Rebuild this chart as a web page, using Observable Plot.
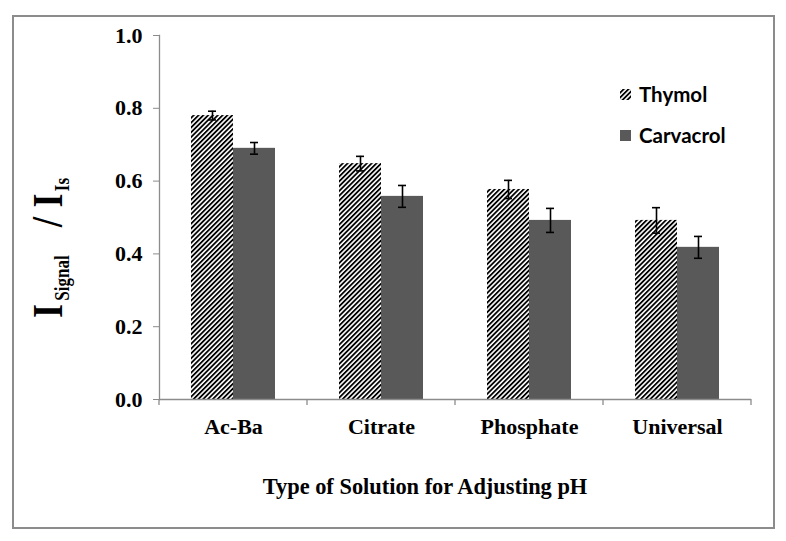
<!DOCTYPE html>
<html>
<head>
<meta charset="utf-8">
<script src="https://cdn.jsdelivr.net/npm/d3@7"></script>
<script src="https://cdn.jsdelivr.net/npm/@observablehq/plot@0.6"></script>
<style>
  html, body { margin: 0; padding: 0; background: #fff; }
  #wrap { position: relative; width: 786px; height: 541px; overflow: hidden; }
  #border { position: absolute; left: 12px; top: 15px; width: 759px; height: 510px; border: 2px solid #8c8c8c; pointer-events: none; }
  #overlay { position: absolute; left: 0; top: 0; pointer-events: none; }
</style>
</head>
<body>
<div id="wrap">
  <div id="chart"></div>
  <div id="border"></div>
  <svg id="overlay" width="786" height="541">
    <defs>
      <pattern id="hatch" patternUnits="userSpaceOnUse" width="3.4" height="3.4" patternTransform="rotate(45)">
        <rect x="0" y="0" width="3.4" height="3.4" fill="#fff"></rect>
        <rect x="0" y="0" width="1.8" height="3.4" fill="#000"></rect>
      </pattern>
    </defs>
    <g id="legend" font-family="Lato" font-weight="bold" font-size="20.5"></g>
    <text id="xtitle" x="425" y="494" text-anchor="middle" font-family="Liberation Serif" font-weight="bold" font-size="22.4" fill="#000"></text>
    <text id="ylabel" transform="translate(62,318) rotate(-90) scale(0.85,1)" font-family="Liberation Serif" font-weight="bold" fill="#000"></text>
  </svg>
</div>
<script>
const categories = ["Ac-Ba", "Citrate", "Phosphate", "Universal"];
const seriesNames = ["Thymol", "Carvacrol"];
const thymol = [0.780, 0.648, 0.577, 0.492];
const carvacrol = [0.690, 0.558, 0.492, 0.418];
const thymolErr = [0.012, 0.020, 0.025, 0.035];
const carvacrolErr = [0.016, 0.030, 0.033, 0.030];
const yTicks = [0, 0.2, 0.4, 0.6, 0.8, 1.0];
const xTitle = "Type of Solution for Adjusting pH";

const thymolRows = categories.map((c, i) => ({category: c, value: thymol[i], err: thymolErr[i]}));
const carvacrolRows = categories.map((c, i) => ({category: c, value: carvacrol[i], err: carvacrolErr[i]}));

const serif = "'Liberation Serif', 'Times New Roman', serif";

// boundary ticks along the category axis
function boundaryTicks(index, scales, values, dimensions) {
  const {width, marginLeft, marginRight, height, marginBottom} = dimensions;
  const n = categories.length;
  const step = (width - marginLeft - marginRight) / n;
  const y0 = height - marginBottom;
  const g = d3.create("svg:g").attr("stroke", "#8c8c8c").attr("stroke-width", 1.3);
  for (let i = 0; i <= n; i++) {
    const x = marginLeft + i * step;
    g.append("line").attr("x1", x).attr("x2", x).attr("y1", y0).attr("y2", y0 + 6);
  }
  return g.node();
}

const chart = Plot.plot({
  width: 786,
  height: 541,
  marginLeft: 159,
  marginRight: 35,
  marginTop: 35,
  marginBottom: 142,
  style: {fontFamily: serif, fontWeight: "bold", fontSize: "22px", color: "#000", background: "transparent", overflow: "visible"},
  x: {domain: categories, padding: 0, label: null},
  y: {domain: [0, 1], label: null},
  marks: [
    Plot.barY(thymolRows, {x: "category", y: "value", fill: "url(#hatch)", insetLeft: 32, insetRight: 74}),
    Plot.barY(carvacrolRows, {x: "category", y: "value", fill: "#595959", insetLeft: 74, insetRight: 32}),
    Plot.ruleX(thymolRows, {x: "category", y1: d => d.value - d.err, y2: d => d.value + d.err, dx: -21, stroke: "#000", strokeWidth: 1.6}),
    Plot.ruleX(carvacrolRows, {x: "category", y1: d => d.value - d.err, y2: d => d.value + d.err, dx: 21, stroke: "#000", strokeWidth: 1.6}),
    Plot.tickY(thymolRows, {x: "category", y: d => d.value + d.err, insetLeft: 49, insetRight: 91, stroke: "#000", strokeWidth: 1.6}),
    Plot.tickY(thymolRows, {x: "category", y: d => d.value - d.err, insetLeft: 49, insetRight: 91, stroke: "#000", strokeWidth: 1.6}),
    Plot.tickY(carvacrolRows, {x: "category", y: d => d.value + d.err, insetLeft: 91, insetRight: 49, stroke: "#000", strokeWidth: 1.6}),
    Plot.tickY(carvacrolRows, {x: "category", y: d => d.value - d.err, insetLeft: 91, insetRight: 49, stroke: "#000", strokeWidth: 1.6}),
    Plot.ruleY([0], {stroke: "#8c8c8c", strokeWidth: 1.3}),
    Plot.frame({anchor: "left", stroke: "#8c8c8c", strokeWidth: 1.3}),
    boundaryTicks,
    Plot.axisY({ticks: yTicks, tickFormat: d => d.toFixed(1), tickSize: 6, tickPadding: 11, stroke: "#8c8c8c", fill: "#000", fontSize: 22, fontWeight: "bold", fontFamily: serif, label: null}),
    Plot.axisX({tickSize: 0, tickPadding: 19, fill: "#000", fontSize: 22, fontWeight: "bold", fontFamily: serif, label: null})
  ]
});
document.getElementById("chart").appendChild(chart);

// x axis title
d3.select("#xtitle").text(xTitle);

// legend
const legend = d3.select("#legend");
const legendItems = [
  {name: seriesNames[0], fill: "url(#hatch)", y: 89, ty: 102},
  {name: seriesNames[1], fill: "#595959", y: 130, ty: 143}
];
for (const it of legendItems) {
  legend.append("rect").attr("x", 620).attr("y", it.y).attr("width", 11).attr("height", 11).attr("fill", it.fill);
  legend.append("text").attr("x", 639).attr("y", it.ty).attr("fill", "#000").text(it.name);
}

// y axis title: I_Signal / I_Is
const yl = d3.select("#ylabel");
yl.append("tspan").attr("font-size", 42).text("I");
yl.append("tspan").attr("font-size", 20).attr("dx", 4).attr("dy", 7).text("Signal");
yl.append("tspan").attr("font-size", 44).attr("dx", 33).attr("dy", -7).text("/");
yl.append("tspan").attr("font-size", 42).attr("dx", 11).text("I");
yl.append("tspan").attr("font-size", 20).attr("dx", 3).attr("dy", 7).text("Is");
</script>
</body>
</html>
